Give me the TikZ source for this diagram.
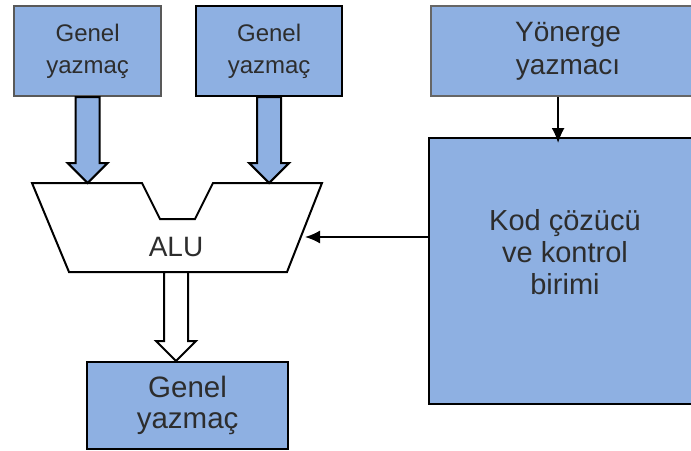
\documentclass[tikz,border=0pt]{standalone}
\usepackage{fontspec}
\setmainfont{Liberation Sans}
\usetikzlibrary{calc,arrows.meta}

\definecolor{regblue}{RGB}{142,176,226}
\definecolor{txtgray}{RGB}{45,45,45}

\tikzset{
    reg/.style={draw=black, line width=2.2pt, fill=regblue, text=txtgray,
        align=center, anchor=north west, inner sep=0pt},
    fatline/.style={draw=black, line width=2pt, line join=miter},
    ctlarrow/.style={line width=1.8pt, -{Latex[length=15pt,width=13pt]}}
}

% wide hollow arrow from #1 down to #2, filled with #3
\newcommand{\fatarrow}[3]{%
    \draw[fatline, fill=#3] let \p1=(#1), \p2=(#2) in
        (\x1-12pt,\y1) -- (\x1-12pt,\y2+20pt) -- (\x1-20pt,\y2+20pt) -- (\x1,\y2)
        -- (\x1+20pt,\y2+20pt) -- (\x1+12pt,\y2+20pt) -- (\x1+12pt,\y1) -- cycle;}

\begin{document}
\begin{tikzpicture}[x=1pt,y=-1pt]
    \useasboundingbox (0,0) rectangle (691,450);

    % Registers
    \node[reg, draw=black!65, minimum width=147, minimum height=90,
        font=\fontsize{24}{32}\selectfont] (gen1) at (13,5) {Genel\\yazmaç};
    \node[reg, minimum width=146, minimum height=90,
        font=\fontsize{24}{32}\selectfont] (gen2) at (195,5) {Genel\\yazmaç};
    \node[reg, draw=black!60, minimum width=274, minimum height=90,
        font=\fontsize{28}{33}\selectfont] (yon) at (430,5) {Yönerge\\yazmacı};
    \node[reg, minimum width=276, minimum height=266] (kod) at (428,137) {};
    \node[text=txtgray, align=center, font=\fontsize{29}{32}\selectfont]
        (kodtext) at (565,252) {Kod çözücü\\ve kontrol\\birimi};
    \node[reg, minimum width=201, minimum height=87,
        font=\fontsize{29.5}{31}\selectfont] (out) at (86,361) {Genel\\yazmaç};

    % ALU
    \draw[fatline, fill=white] (32,183) coordinate (alu-tl) -- (142,183) -- (160,219)
        -- (195,219) -- (213,183) -- (322,183) -- (287,272) -- (69,272) -- cycle;
    \node[text=txtgray, font=\fontsize{28}{30}\selectfont] (alu) at (176,247) {ALU};
    \coordinate (alu-out) at (176,272);
    \coordinate (alu-ctl) at (305,237);

    % Data paths
    \fatarrow{gen1.south}{gen1.south |- alu-tl}{regblue}
    \fatarrow{gen2.south}{gen2.south |- alu-tl}{regblue}
    \fatarrow{alu-out}{alu-out |- out.north}{white}

    % Control
    \draw[ctlarrow, shorten >=-6pt] ([xshift=-10pt]yon.south) -- ([xshift=-10pt]yon.south |- kod.north);
    \draw[ctlarrow] (kod.west |- alu-ctl) -- (alu-ctl);
\end{tikzpicture}
\end{document}
